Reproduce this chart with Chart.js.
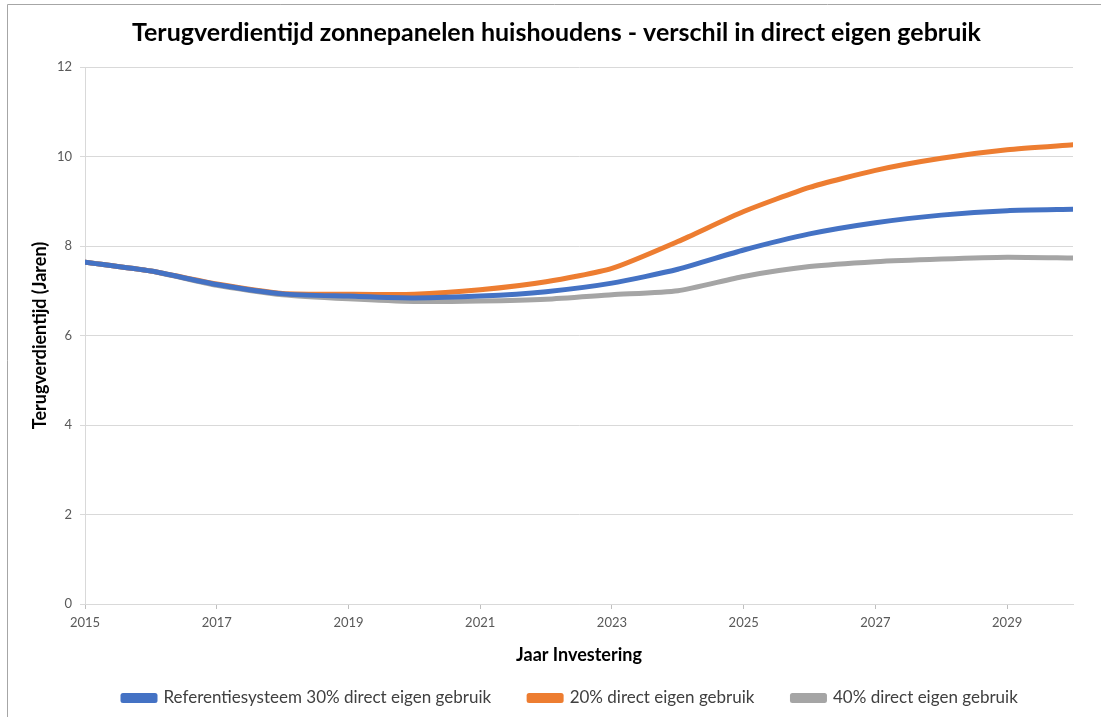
<!DOCTYPE html>
<html>
<head>
<meta charset="utf-8">
<script src="https://cdn.jsdelivr.net/npm/chart.js@4/dist/chart.umd.min.js"></script>
<style>
  html, body { margin: 0; padding: 0; background: #fff; }
  #wrap { position: relative; width: 1101px; height: 717px; }
</style>
</head>
<body>
<div id="wrap"><canvas id="c" width="1101" height="717"></canvas></div>
<script>
const years = [2015, 2016, 2017, 2018, 2019, 2020, 2021, 2022, 2023, 2024, 2025, 2026, 2027, 2028, 2029, 2030];
const referentie30 = [7.64, 7.44, 7.14, 6.93, 6.88, 6.84, 6.88, 6.98, 7.17, 7.48, 7.91, 8.27, 8.52, 8.69, 8.79, 8.82];
const eigen20 = [7.64, 7.44, 7.15, 6.94, 6.92, 6.92, 7.02, 7.20, 7.50, 8.10, 8.77, 9.31, 9.69, 9.96, 10.15, 10.26];
const eigen40 = [7.64, 7.44, 7.12, 6.91, 6.82, 6.76, 6.77, 6.81, 6.91, 7.00, 7.32, 7.54, 7.65, 7.71, 7.75, 7.73];
const seriesNames = ['Referentiesysteem 30% direct eigen gebruik', '20% direct eigen gebruik', '40% direct eigen gebruik'];
const xTickYears = [2015, 2017, 2019, 2021, 2023, 2025, 2027, 2029];
const yTicks = [0, 2, 4, 6, 8, 10, 12];

const FONT = 'Lato, "Open Sans", sans-serif';

const toPts = arr => arr.map((v, i) => ({ x: years[i], y: v }));

const borderPlugin = {
  id: 'frame',
  beforeDraw(chart) {
    const ctx = chart.ctx;
    ctx.save();
    ctx.fillStyle = '#fff';
    ctx.fillRect(0, 0, chart.width, chart.height);
    ctx.strokeStyle = '#a6a6a6';
    ctx.lineWidth = 1;
    ctx.beginPath();
    ctx.moveTo(7.5, chart.height);
    ctx.lineTo(7.5, 4.5);
    ctx.lineTo(chart.width, 4.5);
    ctx.stroke();
    ctx.restore();
  }
};

new Chart(document.getElementById('c'), {
  type: 'line',
  data: {
    datasets: [
      { label: seriesNames[0], data: toPts(referentie30), borderColor: '#4472C4', backgroundColor: '#4472C4' },
      { label: seriesNames[1], data: toPts(eigen20), borderColor: '#ED7D31', backgroundColor: '#ED7D31' },
      { label: seriesNames[2], data: toPts(eigen40), borderColor: '#A5A5A5', backgroundColor: '#A5A5A5' }
    ]
  },
  options: {
    responsive: false,
    animation: false,
    devicePixelRatio: 1,
    elements: {
      line: { borderWidth: 5, tension: 0.2, borderCapStyle: 'round', borderJoinStyle: 'round' },
      point: { radius: 0 }
    },
    layout: { padding: { left: 40, right: 28, top: 0, bottom: 0.5 } },
    plugins: {
      title: {
        display: true,
        text: 'Terugverdientijd zonnepanelen huishoudens - verschil in direct eigen gebruik',
        color: '#000',
        font: { family: FONT, size: 25, weight: 'bold' },
        padding: { top: 18, bottom: 19 }
      },
      legend: {
        position: 'bottom',
        fullSize: false,
        align: 'start',
        labels: {
          color: '#404040',
          font: { family: FONT, size: 17 },
          boxWidth: 32,
          boxHeight: 5,
          padding: 38
        }
      },
      tooltip: { enabled: false }
    },
    scales: {
      x: {
        type: 'linear',
        min: 2015,
        max: 2030,
        afterBuildTicks(scale) {
          scale.ticks = xTickYears.map(v => ({ value: v }));
        },
        afterFit(scale) { scale.height = 47.5; },
        ticks: {
          color: '#595959',
          font: { family: FONT, size: 13 },
          maxRotation: 0,
          autoSkip: false,
          padding: 6,
          callback: v => String(v)
        },
        grid: { drawOnChartArea: false, color: '#bfbfbf', tickLength: 5 },
        border: { color: '#d9d9d9' },
        title: {
          display: true,
          text: 'Jaar Investering',
          color: '#000',
          font: { family: FONT, size: 18, weight: 'bold' },
          padding: { top: 0, bottom: -14 }
        }
      },
      y: {
        min: 0,
        max: 12,
        afterBuildTicks(scale) {
          scale.ticks = yTicks.map(v => ({ value: v }));
        },
        afterFit(scale) { scale.width = 45; },
        ticks: {
          color: '#595959',
          font: { family: FONT, size: 13 },
          padding: 8
        },
        grid: { color: '#d9d9d9', tickLength: 5 },
        border: { color: '#d9d9d9' },
        title: {
          display: true,
          text: 'Terugverdientijd (Jaren)',
          color: '#000',
          font: { family: FONT, size: 18, weight: 'bold' },
          padding: { top: -10.8, bottom: 0 }
        }
      }
    }
  },
  plugins: [borderPlugin]
});
</script>
</body>
</html>
